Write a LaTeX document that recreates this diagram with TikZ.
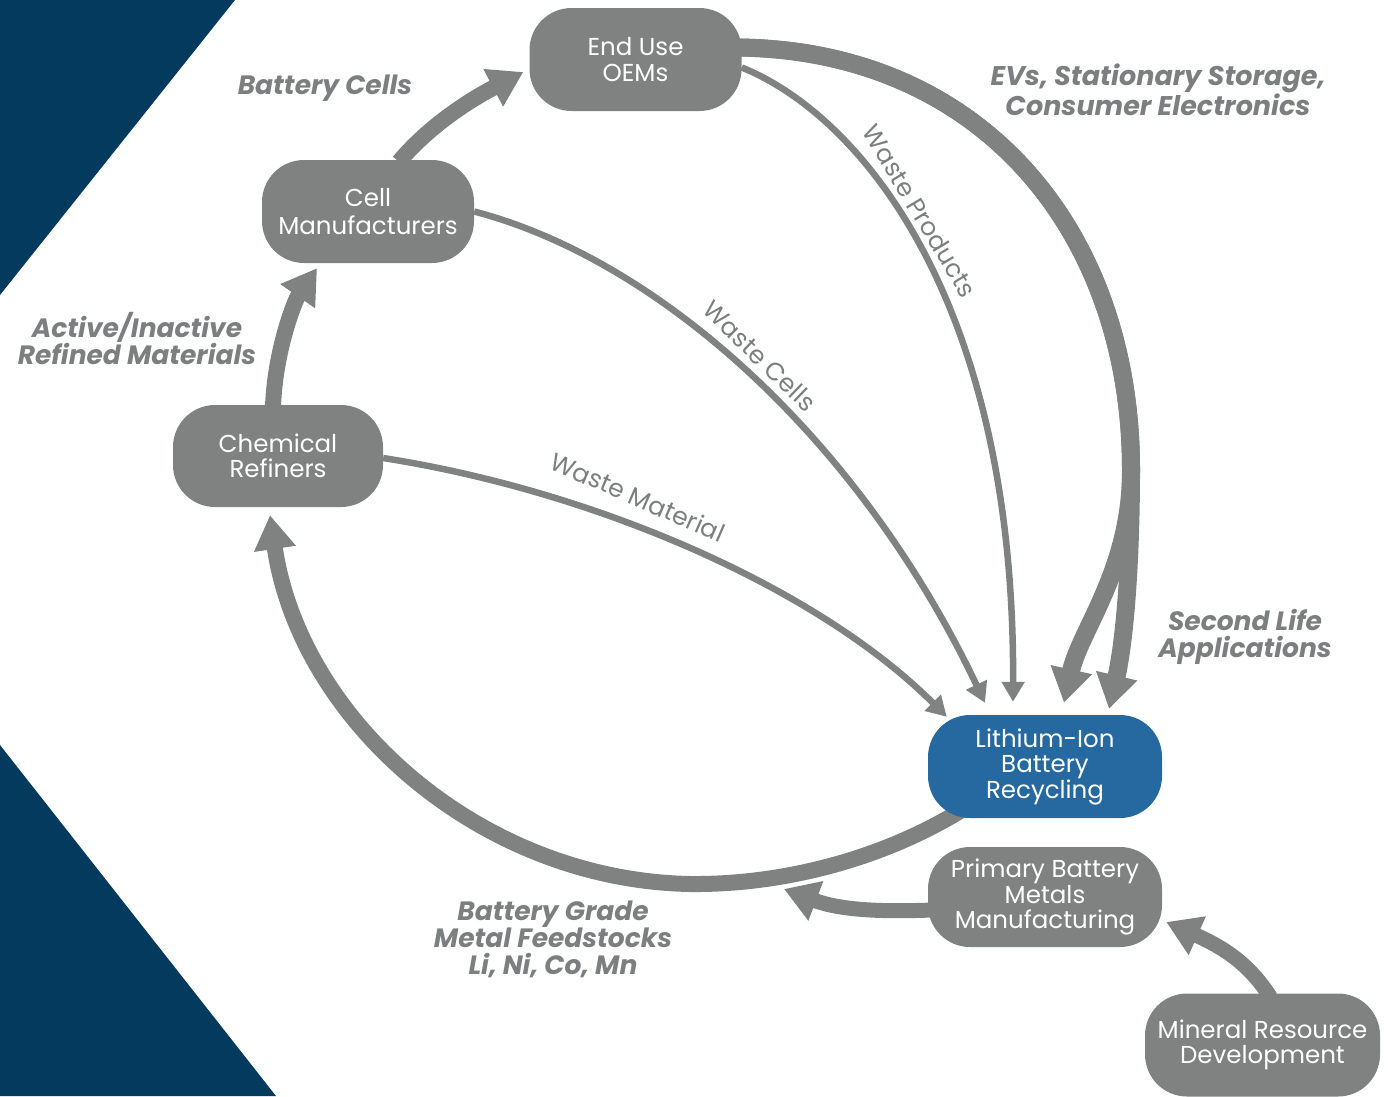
\documentclass[tikz,border=0pt]{standalone}
\usepackage{fontspec}
\setmainfont{Poppins}
\usetikzlibrary{arrows.meta,calc}
\definecolor{gr}{HTML}{808281}
\definecolor{navy}{HTML}{033A5E}
\definecolor{blu}{HTML}{2569A0}
\definecolor{lbl}{HTML}{7C7E7F}
\pgfdeclarelayer{bg}
\pgfsetlayers{bg,main}
\begin{document}
\begin{tikzpicture}[x=1pt,y=-1pt,
 box/.style={fill=gr, text=white, rounded corners=42pt, minimum width=212pt, minimum height=103pt, align=center, inner sep=0pt, font=\fontsize{24.5}{25.5}\selectfont},
 lab/.style={text=lbl, align=center, font=\fontsize{26.5}{27}\selectfont\bfseries\itshape},
 wlab/.style={text=lbl, font=\fontsize{25}{25}\selectfont},
 bigflow/.style={draw=gr, line width=16pt, -{Triangle[length=34pt,width=40pt]}},
 smallflow/.style={draw=gr, line width=6.5pt, -{Triangle[length=20pt,width=22pt]}},
]
\useasboundingbox (0,0) rectangle (1388,1096);
\fill[navy] (0,0) -- (235,0) -- (0,295) -- cycle;
\fill[navy] (0,745) -- (276,1096) -- (0,1096) -- cycle;

\node[box] (eou) at (635.5,59.5) {End Use\\OEMs};
\node[box, font=\fontsize{24.5}{28}\selectfont] (cell) at (368,211.5) {Cell\\Manufacturers};
\node[box, minimum width=210pt, minimum height=102pt] (chem) at (278,456) {Chemical\\Refiners};
\node[box, fill=blu, minimum width=234pt] (rec) at (1045,766.5) {Lithium-Ion\\Battery\\Recycling};
\node[box, minimum width=234pt, minimum height=100pt] (prim) at (1045,897) {Primary Battery\\Metals\\Manufacturing};
\node[box, minimum width=235pt] (min) at (1262.5,1045) {Mineral Resource\\Development};
\coordinate (feed) at (784,889);

\node[lab] (lbc) at (325,88) {Battery Cells};
\node[lab] (lar) at (137,339) {Active/Inactive\\Refined Materials};
\node[lab, font=\fontsize{27}{27}\selectfont\bfseries\itshape] (lev) at (1158,90) {EVs, Stationary Storage,\\Consumer Electronics};
\node[lab] (lsl) at (1245,637) {Second Life\\Applications};
\node[lab] (lbg) at (553,939) {Battery Grade\\Metal Feedstocks\\Li, Ni, Co, Mn};

\node[wlab, rotate=-59] (lwp) at (920,211) {Waste Products};
\node[wlab, rotate=-44] (lwc) at (760,356) {Waste Cells};
\node[wlab, rotate=-23.5] (lwm) at (638,497) {Waste Material};

\begin{pgfonlayer}{bg}
\draw[bigflow] ($(cell.north)+(31,2)$) .. controls (430,125) and (470,100) .. ($(eou.west)+(-6,12.5)$);
\draw[bigflow] ($(chem.north)+(-5,2)$) .. controls (275,350) and (295,300) .. ($(cell.south)+(-51,5)$);
\draw[bigflow] ($(rec.center)+(-70,35)$) .. controls (895,855) and (790,885) .. (690,884) .. controls (480,880) and (300,720) .. ($(chem.south)+(-8,8)$);
\draw[bigflow, line width=15pt] ($(prim.west)+(4,13)$) .. controls (880,912) and (840,910) .. (feed);
\draw[bigflow, line width=15pt] ($(min.north)+(8,4)$) .. controls (1250,965) and (1225,948) .. ($(prim.east)+(4,25)$);
\draw[bigflow, line width=18pt] ($(eou.east)+(-4,-12)$) .. controls (980,50) and (1131,230) .. (1131,470) .. controls (1131,570) and (1080,630) .. ($(rec.north)+(19,-12)$);
\draw[bigflow, line width=18pt] ($(eou.east)+(-4,-12)$) .. controls (980,50) and (1131,230) .. (1131,470) .. controls (1131,560) and (1125,640) .. ($(rec.north)+(64,-6)$);
\draw[smallflow] ($(eou.east)+(0,8)$) .. controls (860,115) and (1015,300) .. ($(rec.north)+(-32,-13)$);
\draw[smallflow] (cell.east) .. controls (660,260) and (860,440) .. ($(rec.north)+(-60,-12)$);
\draw[smallflow] ($(chem.east)+(0,2)$) .. controls (600,492) and (820,590) .. ($(rec.north west)+(19,2)$);
\end{pgfonlayer}
\end{tikzpicture}
\end{document}
